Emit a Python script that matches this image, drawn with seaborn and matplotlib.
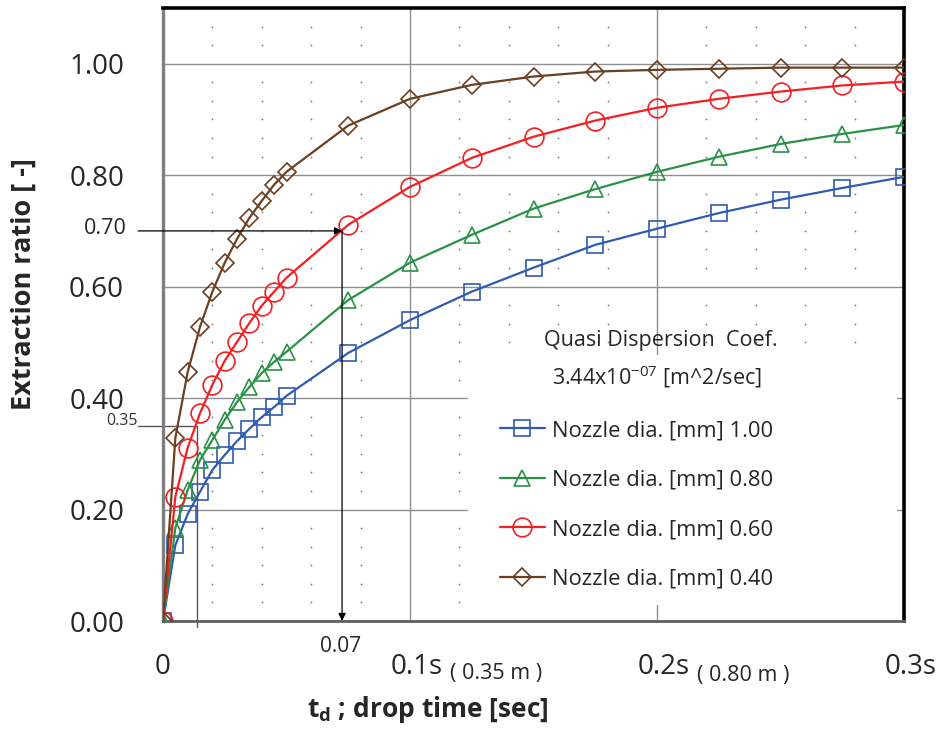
import numpy as np
import pandas as pd
import matplotlib
matplotlib.use("Agg")
import matplotlib.pyplot as plt
import seaborn as sns
from matplotlib.patches import Rectangle
from matplotlib.transforms import ScaledTranslation

# ---------------- data ----------------
t_values = [0, 0.005, 0.01, 0.015, 0.02, 0.025, 0.03, 0.035, 0.04, 0.045, 0.05,
            0.075, 0.1, 0.125, 0.15, 0.175, 0.2, 0.225, 0.25, 0.275, 0.3]
ratio_d100 = [0, 0.136, 0.192, 0.232, 0.271, 0.298, 0.323, 0.345, 0.366, 0.384, 0.404,
              0.481, 0.540, 0.591, 0.634, 0.675, 0.704, 0.732, 0.756, 0.777, 0.797]
ratio_d080 = [0, 0.167, 0.235, 0.289, 0.325, 0.361, 0.393, 0.420, 0.445, 0.465, 0.483,
              0.576, 0.643, 0.693, 0.740, 0.775, 0.806, 0.833, 0.856, 0.874, 0.890]
ratio_d060 = [0, 0.223, 0.311, 0.373, 0.424, 0.467, 0.501, 0.535, 0.566, 0.591, 0.616,
              0.711, 0.779, 0.831, 0.869, 0.898, 0.921, 0.937, 0.950, 0.961, 0.968]
ratio_d040 = [0, 0.3285, 0.447, 0.528, 0.591, 0.643, 0.686, 0.7235, 0.754, 0.783, 0.806,
              0.889, 0.937, 0.962, 0.977, 0.986, 0.989, 0.991, 0.993, 0.993, 0.993]

series_labels = ["Nozzle dia. [mm] 1.00", "Nozzle dia. [mm] 0.80",
                 "Nozzle dia. [mm] 0.60", "Nozzle dia. [mm] 0.40"]
x_tick_values = [0, 0.1, 0.2, 0.3]
x_tick_labels = ["0", "0.1s", "0.2s", "0.3s"]
y_tick_values = [0.0, 0.2, 0.4, 0.6, 0.8, 1.0]
y_tick_labels = ["0.00", "0.20", "0.40", "0.60", "0.80", "1.00"]
read_t, read_ratio = 0.0725, 0.70
read_t2, read_ratio2 = 0.0138, 0.35

# ---------------- style ----------------
sns.set_style("white")
plt.rcParams["font.family"] = ["Open Sans", "DejaVu Sans"]
plt.rcParams["mathtext.default"] = "regular"

W, H = 939, 735
fig = plt.figure(figsize=(W / 100, H / 100), dpi=100)
ax = fig.add_axes([163 / W, 1 - 621 / H, (904 - 163) / W, (621 - 8) / H])

def fx(px):
    return px / W

def fy(py):
    return 1 - py / H

colors = ["#2F5BB0", "#2A9246", "#F51E23", "#6B3F1F"]
markers = ["s", "^", "o", "D"]
msizes = [11, 12, 13.5, 8.7]
all_series = [ratio_d100, ratio_d080, ratio_d060, ratio_d040]

df = pd.DataFrame({
    "t": np.tile(t_values, 4),
    "ratio": np.concatenate(all_series),
    "series": np.repeat(series_labels, len(t_values)),
})

for lab, c, m, ms in zip(series_labels, colors, markers, msizes):
    sub = df[df["series"] == lab]
    sns.lineplot(data=sub, x="t", y="ratio", ax=ax, color=c, marker=m,
                 markersize=ms, markerfacecolor="none", markeredgecolor=c,
                 markeredgewidth=1.2, linewidth=1.6, label=lab, zorder=3)

ax.set_xlim(0, 0.3)
ax.set_ylim(0, 1.1)
ax.set_xlabel("")
ax.set_ylabel("")
ax.set_xticks(x_tick_values)
ax.set_xticklabels(x_tick_labels)
ax.set_yticks(y_tick_values)
ax.set_yticklabels(y_tick_labels)
ax.set_axisbelow(True)
ax.grid(True, color="#8f8f8f", linewidth=1.0)
ax.tick_params(axis="y", direction="out", length=9, width=1, color="#8f8f8f",
               labelsize=20, pad=19)
ax.tick_params(axis="x", direction="out", length=10, width=1, color="#8f8f8f",
               labelsize=20, pad=13)
ax.xaxis.get_major_ticks()[0].tick1line.set_visible(False)
for lbl in ax.get_xticklabels()[1:]:
    lbl.set_transform(lbl.get_transform() + ScaledTranslation(7 / 100, 0, fig.dpi_scale_trans))

for s in ["top", "right"]:
    ax.spines[s].set_color("black")
    ax.spines[s].set_linewidth(2.6)
ax.spines["left"].set_color("#7f7f7f")
ax.spines["left"].set_linewidth(2.4)
ax.spines["bottom"].set_color("#5f5f5f")
ax.spines["bottom"].set_linewidth(2.0)

# dotted minor grid (dots at minor intersections)
minor_x = [v for v in np.arange(0.02, 0.3, 0.02) if abs(v / 0.1 - round(v / 0.1)) > 1e-6]
minor_y = [k / 30 for k in range(1, 33) if k % 6 != 0]
gx, gy = np.meshgrid(minor_x, minor_y)
ax.scatter(gx.ravel(), gy.ravel(), s=1.6, color="#777777", linewidths=0, zorder=1)

# white box behind legend
ax.add_patch(Rectangle((0.1235, 0.029), 0.2972 - 0.1235, 0.478 - 0.029,
                       facecolor="white", edgecolor="none", zorder=1.2))

# reading annotations
x_left = -0.0101
ax.annotate("", xy=(read_t, read_ratio), xytext=(x_left, read_ratio),
            arrowprops=dict(arrowstyle="-|>", color="black", lw=0.9,
                            mutation_scale=11, shrinkA=0, shrinkB=0),
            annotation_clip=False, zorder=4)
ax.annotate("", xy=(read_t, 0.0), xytext=(read_t, read_ratio),
            arrowprops=dict(arrowstyle="-|>", color="black", lw=0.9,
                            mutation_scale=11, shrinkA=0, shrinkB=0),
            annotation_clip=False, zorder=4)
ax.plot([x_left, read_t2], [read_ratio2, read_ratio2], color="#555555", lw=1.0,
        clip_on=False, zorder=2)
ax.plot([read_t2, read_t2], [read_ratio2, -0.011], color="#555555", lw=1.0,
        clip_on=False, zorder=2)

fig.text(fx(127), fy(229), "0.70", ha="right", va="center", fontsize=15.5)
fig.text(fx(138), fy(421), "0.35", ha="right", va="center", fontsize=11.5, color="#333333")
fig.text(fx(341), fy(647), "0.07", ha="center", va="center", fontsize=15)
fig.text(fx(450), fy(673), "( 0.35 m )", ha="left", va="center", fontsize=15.5)
fig.text(fx(697), fy(676), "( 0.80 m )", ha="left", va="center", fontsize=15.5)

# axis labels
fig.text(fx(24), fy(284), "Extraction ratio [ -]", rotation=90, ha="center",
         va="center", fontsize=19.5, fontweight="bold")
fig.text(fx(428), fy(717), "t$_{d}$ ; drop time [sec]", ha="center", va="baseline",
         fontsize=19, fontweight="bold")

# legend title & legend
fig.text(fx(661), fy(341), "Quasi Dispersion  Coef.", ha="center", va="center", fontsize=15.5)
fig.text(fx(657), fy(377), "3.44x10$^{-07}$ [m^2/sec]", ha="center", va="center", fontsize=15.5)

handles, labels = ax.get_legend_handles_labels()
ax.legend(handles, labels, loc="upper left", bbox_to_anchor=(fx(500), fy(420)),
          bbox_transform=fig.transFigure, frameon=False, fontsize=15.8,
          handlelength=2.05, handletextpad=0.3, labelspacing=1.3,
          borderpad=0, borderaxespad=0)

fig.savefig("out.png", dpi=100)
